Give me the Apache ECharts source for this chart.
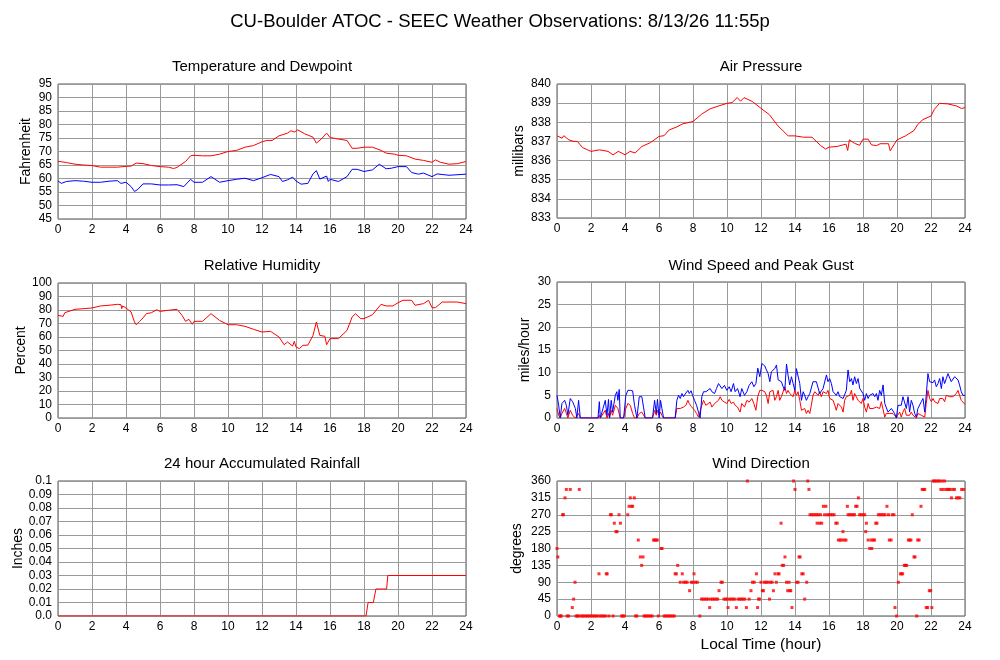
<!DOCTYPE html>
<html>
<head>
<meta charset="utf-8">
<script src="https://cdn.jsdelivr.net/npm/echarts@6/dist/echarts.min.js"></script>
<style>
html,body{margin:0;padding:0;background:#fff;}
#c{width:1000px;height:660px;}
</style>
</head>
<body>
<div id="c"></div>
<script>
// ---------------- DATA ----------------
var mainTitle = 'CU-Boulder ATOC - SEEC Weather Observations: 8/13/26 11:55p';
var panelTitles = ['Temperature and Dewpoint','Air Pressure','Relative Humidity','Wind Speed and Peak Gust','24 hour Accumulated Rainfall','Wind Direction'];
var yNames = ['Fahrenheit','millibars','Percent','miles/hour','Inches','degrees'];
var xName = 'Local Time (hour)';

var tempHour = [0,0.5,1,1.5,2,2.5,3,3.5,4,4.3,4.6,5,5.5,6,6.5,6.8,7,7.5,7.8,8,8.5,9,9.5,10,10.5,11,11.5,12,12.3,12.6,13,13.5,13.7,13.9,14.1,14.5,15,15.2,15.5,15.8,16,16.5,17,17.3,17.6,18,18.5,19,19.3,19.8,20,20.5,21,21.5,22,22.2,22.5,23,23.5,24];
var tempF = [66.4,65.9,65.3,65.0,64.8,64.2,64.2,64.2,64.5,64.6,65.7,65.5,64.8,64.4,64.2,63.7,64.1,66.3,68.4,68.6,68.4,68.4,69.0,70.0,70.4,71.6,72.2,73.6,74.1,74.1,75.8,76.8,77.7,77.2,78.0,76.6,75.3,73.1,74.7,76.8,75.2,74.6,74.1,71.2,71.2,71.6,71.6,70.4,69.4,69.0,68.6,68.4,67.2,66.7,66.0,66.9,66.0,65.3,65.5,66.3];

var dewHour = [0,0.2,0.5,1,1.5,2,2.5,3,3.5,3.7,4,4.3,4.5,4.7,5,5.5,6,6.5,7,7.4,7.8,8,8.5,9,9.5,10,10.5,11,11.5,12,12.5,13,13.2,13.5,13.8,14,14.3,14.7,15,15.2,15.4,15.8,15.9,16,16.5,17,17.3,17.6,18,18.5,18.9,19.3,19.6,20,20.5,20.8,21.2,21.5,22,22.3,23,24];
var dewF = [59.1,58.2,58.9,59.2,59.0,58.6,58.6,59.0,59.2,58.2,58.6,57.0,55.2,56.0,58.0,58.0,57.6,57.6,57.7,57.0,59.7,58.6,58.6,60.7,58.6,59.2,59.7,60.1,59.2,60.3,61.5,60.7,58.9,59.5,60.5,59.1,57.9,58.2,61.7,62.9,59.8,60.9,58.9,59.7,58.9,60.7,63.4,63.4,62.6,63.2,65.3,63.6,63.8,64.4,64.4,62.2,61.6,62.0,60.7,61.7,61.2,61.6];

var presHour = [0,0.3,0.4,0.7,1,1.2,1.5,1.8,2,2.5,3,3.3,3.6,3.8,4,4.3,4.6,5,5.5,6,6.3,6.6,7,7.4,8,8.5,9,9.5,10,10.3,10.6,10.8,11,11.5,12,12.5,13,13.3,13.6,14,14.5,15,15.5,15.8,16,16.5,17,17.1,17.2,17.5,17.8,18,18.3,18.5,18.8,19,19.5,19.6,20,20.5,21,21.2,21.5,22,22.2,22.5,23,23.5,23.8,24];
var presMb = [837.29,837.17,837.3,837.08,837.0,837.0,836.68,836.56,836.48,836.56,836.48,836.3,836.48,836.4,836.3,836.48,836.4,836.74,836.94,837.26,837.3,837.6,837.74,837.92,838.04,838.42,838.7,838.85,838.99,839.03,839.29,839.1,839.29,839.08,838.73,838.39,837.81,837.55,837.29,837.29,837.22,837.22,836.79,836.6,836.7,836.74,836.86,836.53,837.08,836.9,836.8,837.12,837.12,836.82,836.78,836.88,836.88,836.51,837.08,837.29,837.57,837.86,838.13,838.33,838.68,838.99,838.96,838.85,838.72,838.77];

var rhHour = [0,0.1,0.3,0.4,1,1.5,2,2.5,3,3.5,3.7,3.75,3.8,4,4.3,4.5,4.6,4.8,5,5.2,5.5,5.8,6,6.5,7,7.3,7.5,7.7,7.9,8,8.5,9,9.5,10,10.5,11,11.5,12,12.5,13,13.3,13.5,13.8,13.9,14,14.2,14.4,14.7,15,15.2,15.4,15.7,15.8,16,16.5,17,17.3,17.5,17.8,18,18.5,19,19.3,19.7,20,20.3,20.8,21,21.5,21.8,22,22.2,22.6,23,23.5,24];
var rhPct = [76.0,77.3,75.3,78.0,80.5,81,81.5,83,83.5,84.2,84,81,83,81.5,78.5,71.1,69.1,71.6,74.1,77.3,78.0,80.2,79,79.8,80.5,76.0,71.6,73.1,69.4,71.6,71.6,77.3,72.3,69.1,69.1,67.9,65.7,63.7,64.2,60,54.3,56.3,53.3,56.8,52.6,51.4,53.8,54,61.2,71.1,61.2,60.5,54.3,58.8,58.8,64.9,74.8,77.3,73.6,73.6,76.5,84.2,83,83,85.4,87.2,87.2,83.5,84.7,87.2,81.7,81.7,85.9,85.9,85.9,84.7];

var windHour = [0.00,0.10,0.19,0.29,0.45,0.55,0.64,0.78,0.92,1.08,1.17,1.27,1.37,1.47,2.41,2.49,2.55,2.84,2.94,3.03,3.09,3.19,3.27,3.43,3.52,3.58,3.66,3.72,3.82,3.92,4.05,4.17,4.31,4.45,4.56,4.70,4.84,4.99,5.09,5.19,5.62,5.74,5.84,5.91,6.01,6.09,6.17,6.27,6.37,6.95,7.05,7.15,7.25,7.35,7.44,7.58,7.70,7.78,7.89,7.97,8.09,8.21,8.32,8.42,8.52,8.62,8.76,8.87,9.01,9.11,9.27,9.38,9.50,9.60,9.70,9.85,9.99,10.13,10.24,10.38,10.48,10.62,10.77,10.87,11.03,11.17,11.30,11.46,11.58,11.70,11.81,11.93,12.05,
  12.12,12.22,12.32,12.42,12.52,12.61,12.71,12.81,12.91,13.01,13.10,13.20,13.30,13.40,13.50,13.59,13.69,13.79,13.89,13.99,14.08,14.18,14.28,14.38,14.48,14.57,14.67,14.77,14.87,14.96,15.06,15.16,15.26,15.36,15.45,15.55,15.65,15.75,15.85,15.94,16.04,16.14,16.24,16.34,16.43,16.53,16.63,16.73,16.83,16.92,17.02,17.12,17.22,17.32,17.41,17.51,17.61,17.71,17.81,17.90,18.00,18.10,18.20,18.30,18.39,18.49,18.59,18.69,18.79,18.88,18.98,19.08,19.18,19.28,19.37,19.47,19.57,19.67,19.76,19.86,19.96,20.06,20.16,20.25,20.35,20.45,20.55,20.65,20.74,20.84,20.94,21.04,21.14,21.23,21.33,21.43,21.53,21.63,21.72,21.82,21.92,22.02,22.12,22.21,22.31,22.41,22.51,22.61,22.70,22.80,22.90,23.00,23.10,23.19,23.29,23.39,23.49,23.59,23.68,23.78,23.88,24.00];
var windGust = [5.0,2.8,0,3.2,3.9,2.8,0.6,4.3,3.6,2.1,0,3.9,0,0,0,3.6,0,3.9,0.6,4.1,0,3.9,1.3,5.0,5.8,3.9,6.3,0,0,0,5.0,6.1,6.1,6.0,2.8,0,4.7,4.7,2.4,0,0,3.9,1.0,4.1,0,3.9,2.1,0,0,0,3.9,5.0,4.3,5.4,4.7,5.5,6.1,5.4,6.0,5.0,3.9,2.8,1.3,0,4.7,5.8,5.8,5.4,6.5,5.8,5.4,6.5,7.6,8.0,6.5,7.2,6.1,6.9,5.8,7.6,5.8,6.5,4.7,6.5,5.0,5.8,7.2,8.0,6.9,7.6,11.0,9.1,12.0,
  12.1,11.5,10.6,9.8,8.0,10.2,9.8,10.9,11.7,8.4,8.0,8.0,6.9,6.1,11.9,9.5,7.3,9.1,7.6,6.1,10.9,10.7,7.6,3.9,5.8,5.0,3.9,4.7,5.4,5.8,8.0,8.0,8.0,8.0,5.4,5.4,6.5,6.1,9.5,8.0,8.7,7.6,5.8,5.4,5.0,5.8,4.7,4.3,4.3,4.7,6.1,10.6,8.0,8.7,7.3,9.1,7.6,8.7,6.5,6.9,5.4,3.9,5.4,4.3,5.0,4.7,5.4,4.7,5.4,3.9,6.1,5.0,7.3,3.2,2.8,1.3,1.3,2.1,2.4,1.0,0,2.8,2.4,2.8,4.7,5.0,2.1,4.7,1.3,3.9,2.8,1.0,0.2,2.1,1.7,3.6,4.3,1.3,5.0,9.8,8.0,7.6,7.8,8.4,6.9,7.6,8.7,6.5,9.1,7.6,8.7,9.8,10.2,8.0,8.4,9.1,9.1,8.4,7.3,5.8,5.0,5.0];
var windSpeed = [2.1,0.6,0,1.0,2.1,1.0,0,1.7,0.6,0,0,1.0,0,0,0,0.6,0,1.7,0,1.0,0,1.7,0.6,2.8,3.2,2.1,2.1,0,0,0,2.1,3.2,2.8,1.0,0,0,1.0,1.3,1.0,0,0,1.7,0.6,1.7,0.6,1.3,0.6,0,0,0,2.1,2.3,2.1,2.3,2.4,2.8,3.9,3.2,2.6,2.8,1.7,1.0,0.2,0,2.8,3.9,2.8,2.8,3.5,2.4,3.2,2.8,3.9,4.7,3.9,3.5,3.2,4.1,3.2,3.5,2.8,2.4,1.3,3.2,2.4,3.9,3.5,4.3,3.2,1.7,4.7,6.1,6.1,
  6.1,5.8,5.0,3.2,5.8,5.4,6.1,3.9,4.7,6.1,3.9,4.7,5.0,6.9,5.4,6.1,5.4,5.4,4.7,6.1,5.0,5.8,3.9,1.7,1.3,2.1,1.0,1.7,1.0,2.8,5.0,5.8,5.4,5.0,5.8,4.7,5.8,5.6,5.4,6.1,4.3,4.7,3.9,2.8,1.7,3.2,3.2,2.4,1.3,3.9,4.7,5.0,5.0,6.1,3.9,5.4,5.0,3.9,4.3,3.2,4.3,2.4,1.3,3.2,2.1,2.1,2.1,2.1,2.4,2.4,2.1,3.6,3.2,0.2,1.0,1.0,1.0,1.0,1.0,1.0,0.2,0.6,1.3,0.2,1.3,2.1,0.6,0.2,0.6,1.3,0.6,0.2,0,1.0,0.6,0.6,1.0,0.2,3.2,6.1,4.3,3.6,4.3,3.6,3.9,3.2,4.3,3.9,4.3,3.6,5.0,4.7,4.7,4.3,4.7,5.0,5.4,6.1,5.0,3.9,3.6,3.0];

var rainHour = [0,18.12,18.24,18.55,18.7,19.33,19.4,24];
var rainIn = [0,0,0.01,0.01,0.02,0.02,0.03,0.03];

var windDirection = [
 [0.0,180],[0.05,157.5],[0.15,0],[0.2,0],[0.25,0],[0.33,270],[0.38,270],[0.47,315],[0.55,337.5],[0.6,0],[0.68,0],[0.78,337.5],[0.9,22.5],[0.98,45],[1.06,90],[1.12,0],[1.2,0],[1.25,0],[1.31,337.5],[1.4,0],[1.5,0],[1.6,0],[1.7,0],[1.8,0],[1.9,0],[2.0,0],[2.1,0],[2.2,0],[2.3,0],[2.4,0],[2.47,112.5],[2.55,0],[2.65,0],[2.75,0],[2.85,0],[2.9,112.5],[2.95,112.5],[3.05,0],[3.14,270],[3.2,270],[3.3,0],[3.37,247.5],[3.47,225],[3.53,225],[3.65,270],[3.73,247.5],[3.8,0],[3.88,0],[3.96,0],
 [4.16,270],[4.24,292.5],[4.31,315],[4.38,292.5],[4.45,292.5],[4.55,315],[4.62,0],[4.7,0],[4.78,202.5],[4.9,157.5],[4.98,135],[5.06,157.5],[5.12,0],[5.2,0],[5.3,0],[5.4,0],[5.5,0],[5.6,0],[5.68,202.5],[5.75,202.5],[5.83,202.5],[5.9,202.5],[5.96,0],[6.12,180],[6.18,180],[6.3,0],[6.4,0],[6.5,0],[6.6,0],[6.7,0],[6.8,0],[6.9,0],[6.95,112.5],[7.02,112.5],[7.1,135],[7.25,90],[7.37,112.5],[7.45,90],[7.55,90],[7.65,90],[7.8,67.5],[7.9,90],[8.0,90],[8.06,112.5],[8.15,90],[8.25,90],[8.4,0],
 [8.5,45],[8.6,45],[8.7,45],[8.8,45],[8.9,45],[8.98,22.5],[9.05,45],[9.15,45],[9.25,45],[9.35,45],[9.45,45],[9.53,67.5],[9.65,90],[9.72,90],[9.82,45],[9.92,45],[10.0,45],[10.06,22.5],[10.15,45],[10.25,45],[10.35,45],[10.45,45],[10.55,22.5],[10.65,45],[10.75,45],[10.85,45],[10.95,45],[11.05,45],[11.14,22.5],[11.2,360],[11.3,45],[11.41,67.5],[11.5,90],[11.6,90],[11.73,112.5],[11.8,22.5],[11.85,45],[11.92,45],[12.0,90],[12.08,67.5],
 [12.14,67.5],[12.2,90],[12.3,90],[12.4,90],[12.5,45],[12.55,90],[12.65,90],[12.73,67.5],[12.82,112.5],[12.9,90],[13.0,112.5],[13.06,112.5],[13.18,247.5],[13.25,135],[13.33,135],[13.41,157.5],[13.5,90],[13.57,67.5],[13.65,90],[13.7,67.5],[13.75,67.5],[13.82,22.5],[13.92,360],[14.0,337.5],[14.1,90],[14.18,90],[14.24,157.5],[14.3,157.5],[14.4,112.5],[14.48,112.5],[14.57,45],[14.69,90],[14.75,360],[14.82,337.5],
 [14.88,270],[14.98,270],[15.08,270],[15.18,270],[15.28,270],[15.3,247.5],[15.37,270],[15.45,247.5],[15.5,270],[15.57,247.5],[15.67,292.5],[15.74,270],[15.82,292.5],[15.9,270],[16.0,270],[16.1,270],[16.2,270],[16.3,270],[16.4,247.5],[16.48,247.5],[16.55,202.5],[16.65,202.5],[16.75,202.5],[16.82,225],[16.9,202.5],[17.0,202.5],[17.08,292.5],[17.12,270],[17.22,270],[17.32,270],[17.42,270],[17.5,270],[17.57,292.5],[17.65,292.5],[17.73,315],[17.8,270],[17.9,270],[18.0,270],[18.1,270],
 [18.16,225],[18.2,247.5],[18.3,202.5],[18.4,180],[18.48,202.5],[18.52,180],[18.6,202.5],[18.68,202.5],[18.75,247.5],[18.82,247.5],[18.9,270],[19.0,270],[19.1,270],[19.2,270],[19.3,270],[19.41,292.5],[19.5,270],[19.55,202.5],[19.65,202.5],[19.72,270],[19.82,270],[19.88,22.5],[19.98,0],[20.08,90],[20.2,112.5],[20.27,112.5],[20.33,112.5],[20.43,135],[20.5,135],[20.57,135],[20.67,202.5],[20.75,202.5],[20.82,202.5],[20.9,270],[21.0,157.5],[21.06,157.5],[21.16,0],[21.22,202.5],[21.3,202.5],
 [21.41,292.5],[21.48,337.5],[21.56,337.5],[21.63,337.5],[21.72,22.5],[21.8,22.5],[21.9,67.5],[21.98,67.5],[22.05,22.5],[22.12,360],[22.2,360],[22.3,360],[22.4,360],[22.5,360],[22.58,337.5],[22.65,360],[22.72,337.5],[22.8,360],[22.88,337.5],[22.98,337.5],[23.05,337.5],[23.12,337.5],[23.2,315],[23.28,337.5],[23.38,337.5],[23.5,315],[23.6,315],[23.7,315],[23.8,337.5],[23.92,337.5]
];

// ---------------- CHART ----------------
function zip(a, b) { return a.map(function (v, i) { return [v, b[i]]; }); }

var FONT = '"Liberation Sans", Arial, Helvetica, sans-serif';
var RED = '#ff0000', BLUE = '#0000ff';

var grids = [
  {left: 58,  top: 84,  width: 408, height: 135},
  {left: 557, top: 84,  width: 408, height: 134},
  {left: 58,  top: 283, width: 408, height: 135},
  {left: 557, top: 282, width: 408, height: 136},
  {left: 58,  top: 481, width: 408, height: 135},
  {left: 557, top: 481, width: 408, height: 135}
];
var yCfg = [
  {min: 45, max: 95, interval: 5, gap: 25},
  {min: 833, max: 840, interval: 1, gap: 31},
  {min: 0, max: 100, interval: 10, gap: 29},
  {min: 0, max: 30, interval: 5, gap: 25},
  {min: 0, max: 0.1, interval: 0.01, gap: 33},
  {min: 0, max: 360, interval: 45, gap: 33}
];
var titleY = [59, 59, 258, 258, 456, 456];

var option = {
  animation: false,
  backgroundColor: '#ffffff',
  textStyle: {fontFamily: FONT},
  title: [{
    text: mainTitle, left: 500, top: 12, textAlign: 'center', padding: 0,
    textStyle: {fontFamily: FONT, fontSize: 18.5, fontWeight: 'normal', color: '#000'}
  }].concat(panelTitles.map(function (t, i) {
    return {
      text: t, left: grids[i].left + grids[i].width / 2, top: titleY[i], textAlign: 'center', padding: 0,
      textStyle: {fontFamily: FONT, fontSize: 15, fontWeight: 'normal', color: '#000'}
    };
  })),
  grid: grids.map(function (g) {
    return {left: g.left, top: g.top, width: g.width, height: g.height, containLabel: false,
      show: true, borderColor: '#555', borderWidth: 1, backgroundColor: 'transparent'};
  }),
  xAxis: grids.map(function (g, i) {
    return {
      type: 'value', gridIndex: i, min: 0, max: 24, interval: 2,
      name: i === 5 ? xName : '', nameLocation: 'middle', nameGap: 21,
      nameTextStyle: {fontFamily: FONT, fontSize: 15.5, color: '#000'},
      axisLine: {show: false}, axisTick: {show: false},
      axisLabel: {margin: 5, fontFamily: FONT, fontSize: 12, color: '#000'},
      splitLine: {show: true, lineStyle: {color: '#999', width: 1}}
    };
  }),
  yAxis: yCfg.map(function (c, i) {
    return {
      type: 'value', gridIndex: i, min: c.min, max: c.max, interval: c.interval,
      name: yNames[i], nameLocation: 'middle', nameGap: c.gap,
      nameTextStyle: {fontFamily: FONT, fontSize: 14, color: '#000'},
      axisLine: {show: false}, axisTick: {show: false},
      axisLabel: {
        margin: 6, fontFamily: FONT, fontSize: 12, color: '#000',
        formatter: i === 4 ? function (v) { return v === 0 ? '0.0' : String(Math.round(v * 100) / 100); } : null
      },
      splitLine: {show: true, lineStyle: {color: '#999', width: 1}}
    };
  }),
  series: [
    {type: 'line', xAxisIndex: 0, yAxisIndex: 0, data: zip(dewHour, dewF), showSymbol: false, lineStyle: {color: BLUE, width: 1}},
    {type: 'line', xAxisIndex: 0, yAxisIndex: 0, data: zip(tempHour, tempF), showSymbol: false, lineStyle: {color: RED, width: 1}},
    {type: 'line', xAxisIndex: 1, yAxisIndex: 1, data: zip(presHour, presMb), showSymbol: false, lineStyle: {color: RED, width: 1}},
    {type: 'line', xAxisIndex: 2, yAxisIndex: 2, data: zip(rhHour, rhPct), showSymbol: false, lineStyle: {color: RED, width: 1}},
    {type: 'line', xAxisIndex: 3, yAxisIndex: 3, data: zip(windHour, windSpeed), showSymbol: false, lineStyle: {color: RED, width: 1}},
    {type: 'line', xAxisIndex: 3, yAxisIndex: 3, data: zip(windHour, windGust), showSymbol: false, lineStyle: {color: BLUE, width: 1}},
    {type: 'line', xAxisIndex: 4, yAxisIndex: 4, data: zip(rainHour, rainIn), showSymbol: false, lineStyle: {color: RED, width: 1}},
    {type: 'scatter', xAxisIndex: 5, yAxisIndex: 5, data: windDirection, symbol: 'rect', symbolSize: 3, itemStyle: {color: RED}, silent: true}
  ]
};

var chart = echarts.init(document.getElementById('c'), null, {renderer: 'canvas'});
chart.setOption(option);
</script>
</body>
</html>
